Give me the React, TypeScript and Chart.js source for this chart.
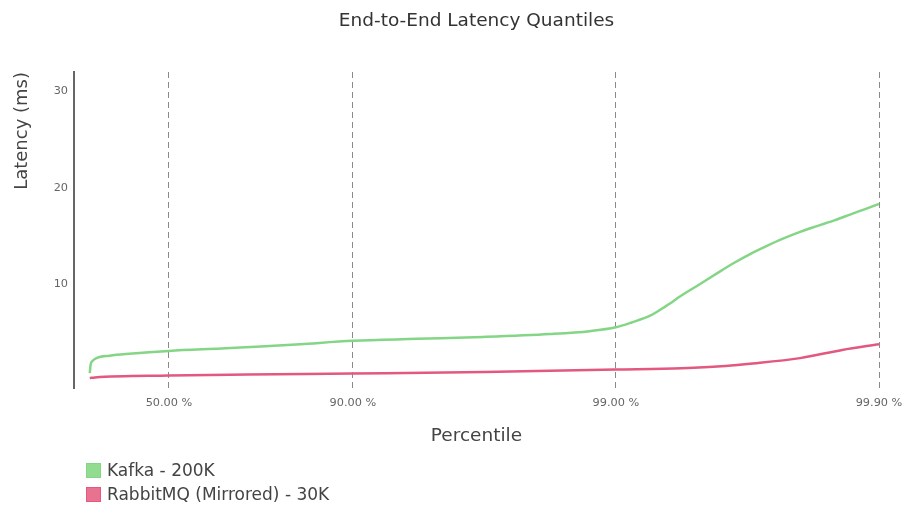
import React, { useEffect, useRef } from "react";
import { Chart, registerables } from "chart.js";

Chart.register(...registerables);

const FONT = "'DejaVu Sans', sans-serif";

const TITLE = "End-to-End Latency Quantiles";
const X_TITLE = "Percentile";
const Y_TITLE = "Latency (ms)";

// Percentile ticks; the x axis is in "nines" = -log10(1 - p)
const X_TICK_PERCENTILES = [50, 90, 99, 99.9];
const X_TICK_LABELS = ["50.00 %", "90.00 %", "99.00 %", "99.90 %"];
const Y_TICKS = [10, 20, 30];

const KAFKA_LABEL = "Kafka - 200K";
const KAFKA_NINES = [
  0, 0.003, 0.01, 0.025, 0.076, 0.15, 0.301, 0.5, 0.65, 0.8, 1.0, 1.243, 1.495,
  1.75, 1.9, 2.0, 2.06, 2.13, 2.19, 2.255, 2.32, 2.384, 2.45, 2.51, 2.57, 2.635,
  2.7, 2.764, 2.83, 2.89, 2.95, 3.0,
];
const KAFKA_LATENCY = [
  0.75, 1.6, 2.0, 2.3, 2.55, 2.75, 3.05, 3.3, 3.5, 3.75, 4.1, 4.3, 4.5, 4.8, 5.1,
  5.5, 6.0, 6.7, 7.7, 8.9, 10.0, 11.1, 12.2, 13.1, 13.9, 14.7, 15.4, 16.0, 16.6,
  17.2, 17.8, 18.3,
];

const RABBIT_LABEL = "RabbitMQ (Mirrored) - 30K";
const RABBIT_NINES = [0, 0.02, 0.301, 0.6, 1.0, 1.5, 2.0, 2.25, 2.4, 2.5, 2.7, 2.86, 3.0];
const RABBIT_LATENCY = [0.23, 0.3, 0.5, 0.6, 0.7, 0.85, 1.12, 1.26, 1.45, 1.7, 2.3, 3.15, 3.75];

const KAFKA_LINE = "#84d585";
const KAFKA_BOX = "#92dc90";
const RABBIT_LINE = "#e2587f";
const RABBIT_BOX = "#e8728f";

const toNines = (p: number) => -Math.log10(1 - p / 100);
const X_TICK_POS = X_TICK_PERCENTILES.map(toNines);

export default function App() {
  const ref = useRef<HTMLCanvasElement | null>(null);

  useEffect(() => {
    document.body.style.margin = "0";
    const canvas = ref.current;
    if (!canvas) return;
    const chart = new Chart(canvas, {
      type: "line",
      data: {
        datasets: [
          {
            label: KAFKA_LABEL,
            data: KAFKA_NINES.map((x, i) => ({ x, y: KAFKA_LATENCY[i] })),
            borderColor: KAFKA_LINE,
            backgroundColor: KAFKA_BOX,
            borderWidth: 2.5,
            pointRadius: 0,
            cubicInterpolationMode: "monotone",
          },
          {
            label: RABBIT_LABEL,
            data: RABBIT_NINES.map((x, i) => ({ x, y: RABBIT_LATENCY[i] })),
            borderColor: RABBIT_LINE,
            backgroundColor: RABBIT_BOX,
            borderWidth: 2.5,
            pointRadius: 0,
            cubicInterpolationMode: "monotone",
          },
        ],
      },
      options: {
        responsive: false,
        animation: false,
        layout: { padding: { left: 0, right: 25, top: 0, bottom: 0 } },
        plugins: {
          legend: { display: false },
          tooltip: { enabled: false },
          title: {
            display: true,
            fullSize: false,
            text: TITLE,
            color: "#333",
            font: { family: FONT, size: 18.5, weight: "normal" },
            padding: { top: 10, bottom: 39.8 },
          },
        },
        scales: {
          x: {
            type: "linear",
            min: -0.06,
            max: 3,
            afterBuildTicks: (s: any) => {
              s.ticks = X_TICK_POS.map((v) => ({ value: v }));
            },
            afterFit: (s: any) => {
              s.height = 119;
              s.paddingRight = 0;
              s.paddingLeft = 0;
            },
            ticks: {
              autoSkip: false,
              maxRotation: 0,
              padding: 8,
              color: "#666",
              font: { family: FONT, size: 11.3 },
              callback: (v: any) => {
                let best = 0;
                X_TICK_POS.forEach((p, i) => {
                  if (Math.abs(p - v) < Math.abs(X_TICK_POS[best] - v)) best = i;
                });
                return X_TICK_LABELS[best];
              },
            },
            grid: { color: "#8a8a8a", lineWidth: 1, drawTicks: false },
            border: { display: false, dash: [6, 4] },
            title: {
              display: true,
              text: X_TITLE,
              color: "#444",
              font: { family: FONT, size: 18.5 },
              padding: { top: 0, bottom: 59.9 },
            },
          },
          y: {
            type: "linear",
            min: -0.8,
            max: 32,
            afterBuildTicks: (s: any) => {
              s.ticks = Y_TICKS.map((v) => ({ value: v }));
            },
            afterFit: (s: any) => {
              s.width = 74;
            },
            ticks: {
              padding: 6,
              color: "#666",
              font: { family: FONT, size: 11.3 },
            },
            grid: { display: false, drawTicks: false },
            border: { display: true, color: "#666", width: 2 },
            title: {
              display: true,
              text: Y_TITLE,
              align: "end",
              color: "#444",
              font: { family: FONT, size: 18 },
              padding: { top: 11.2, bottom: 0 },
            },
          },
        },
      },
    } as any);
    return () => chart.destroy();
  }, []);

  const items = [
    { label: KAFKA_LABEL, fill: KAFKA_BOX, border: KAFKA_LINE },
    { label: RABBIT_LABEL, fill: RABBIT_BOX, border: RABBIT_LINE },
  ];

  return (
    <div style={{ position: "relative", width: 904, height: 507, overflow: "hidden" }}>
      <canvas ref={ref} width={904} height={507} style={{ display: "block" }} />
      <div
        style={{
          position: "absolute",
          left: 86,
          top: 458,
          fontFamily: FONT,
          fontSize: 17,
          color: "#444",
        }}
      >
        {items.map((it) => (
          <div key={it.label} style={{ display: "flex", alignItems: "center", height: 24 }}>
            <span
              style={{
                display: "inline-block",
                width: 15,
                height: 15,
                boxSizing: "border-box",
                background: it.fill,
                border: `1px solid ${it.border}`,
                marginRight: 6,
              }}
            />
            <span>{it.label}</span>
          </div>
        ))}
      </div>
    </div>
  );
}
